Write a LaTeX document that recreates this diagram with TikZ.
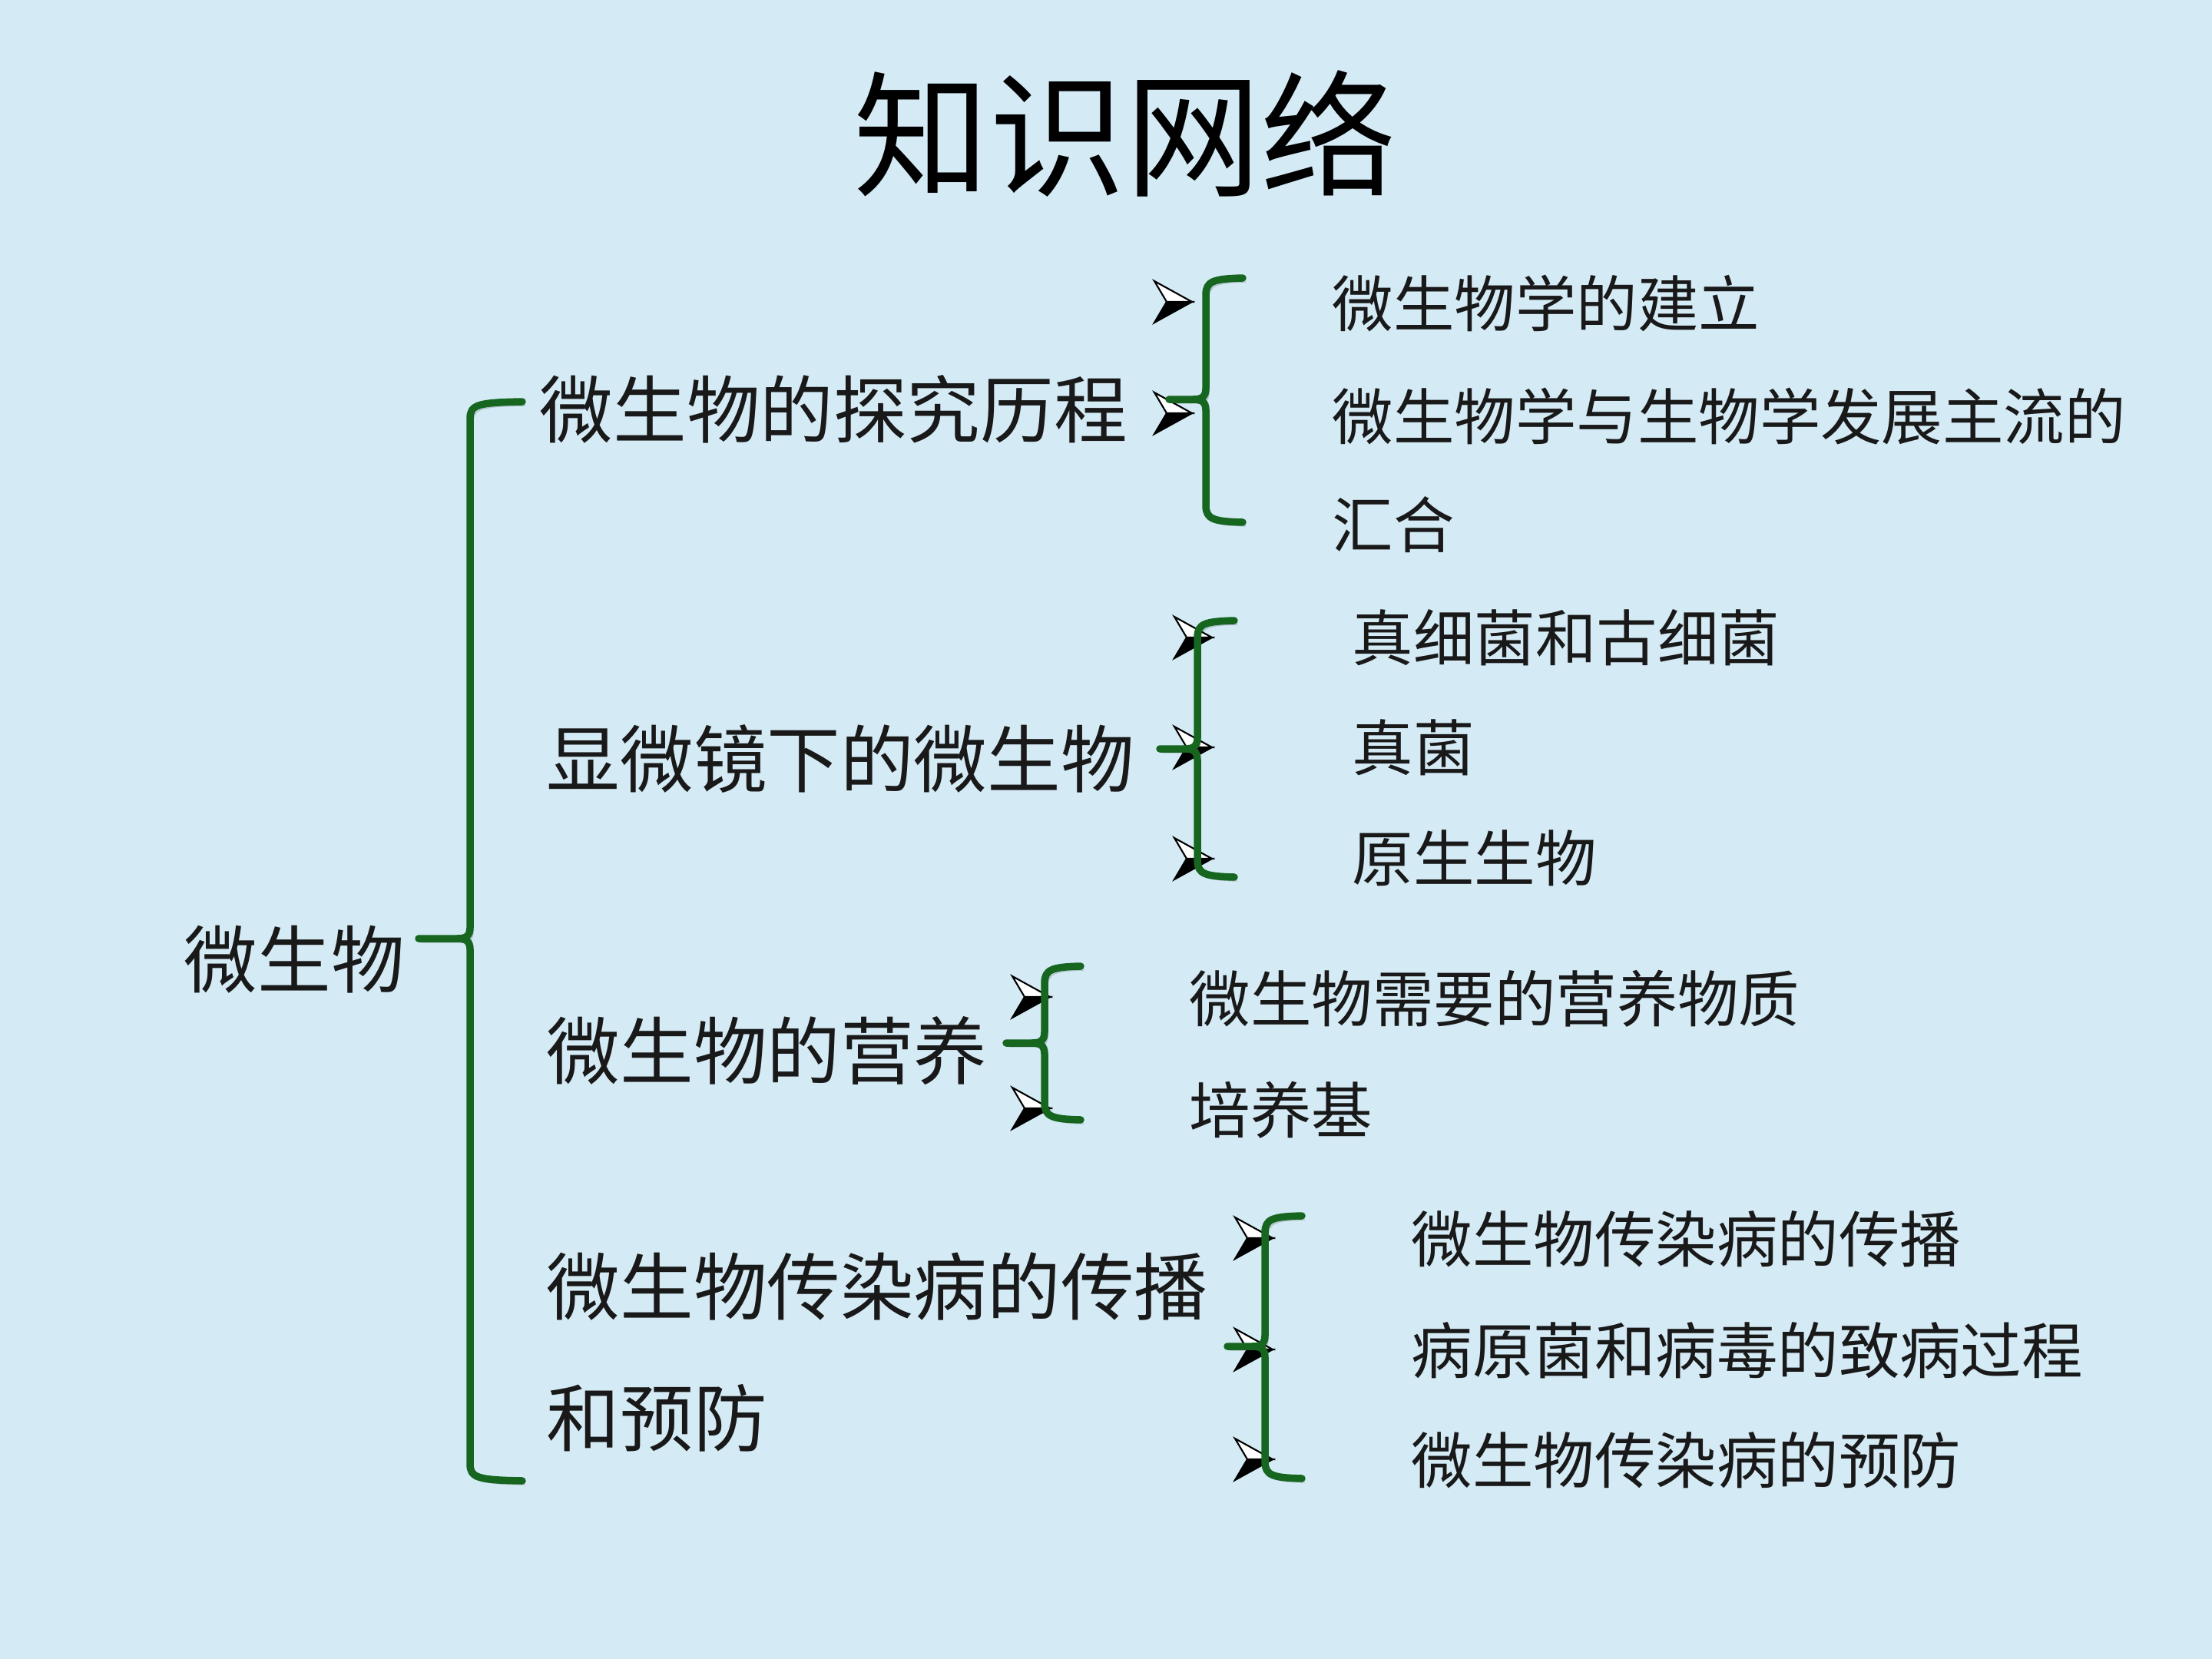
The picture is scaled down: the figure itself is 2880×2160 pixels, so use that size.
\documentclass[tikz,border=0pt]{standalone}
\usepackage{fontspec}
\newfontfamily\cjk{Noto Sans CJK SC}
\definecolor{bgblue}{RGB}{212,234,245}
\definecolor{bracegreen}{RGB}{22,102,32}
\definecolor{inkgray}{RGB}{25,25,25}
\tikzset{
  bigtext/.style={font=\cjk\fontsize{27.2}{32}\selectfont, text=inkgray, anchor=west, inner sep=0pt},
  smalltext/.style={font=\cjk\fontsize{22.6}{27}\selectfont, text=inkgray, anchor=west, inner sep=0pt},
  bracket/.style={draw=bracegreen, line width=0.095cm, line cap=round, line join=round,
    preaction={draw=black, opacity=0.18, transform canvas={shift={(0.04cm,-0.05cm)}}}},
}
% bullet arrow, tip at #1
\newcommand{\arrowbullet}[1]{%
  \begin{scope}[shift={#1}]
    \filldraw[fill=black, draw=black, line width=0.6pt] (0,0) -- (-33,0) -- (-49,27) -- cycle;
    \filldraw[fill=white, draw=black, line width=0.6pt] (0,0) -- (-33,0) -- (-49,-27) -- cycle;
  \end{scope}}
% brace: x, top, mid, bottom, tip x, arm end x
\newcommand{\greenbrace}[6]{%
  \draw[bracket] (#6,#2) .. controls (#1+10,#2+1) and (#1,#2+4) .. (#1,#2+22)
    -- (#1,#3-14) .. controls (#1,#3-3) and (#1-6,#3) .. (#1-16,#3) -- (#5,#3);
  \draw[bracket] (#1-16,#3) .. controls (#1-6,#3) and (#1,#3+3) .. (#1,#3+14)
    -- (#1,#4-22) .. controls (#1,#4-4) and (#1+10,#4-1) .. (#6,#4);}
\begin{document}
\begin{tikzpicture}[x=0.01cm, y=-0.01cm]
  \fill[bgblue] (0,0) rectangle (2880,2160);
  \useasboundingbox (0,0) rectangle (2880,2160);

  \node[font=\cjk\fontsize{50.3}{60}\selectfont, text=black, inner sep=0pt] (title) at (1465,174) {知识网络};

  % first and second level
  \node[bigtext] (root) at (239,1249) {微生物};
  \node[bigtext] (hist) at (702,533) {微生物的探究历程};
  \node[bigtext] (scope) at (711,988) {显微镜下的微生物};
  \node[bigtext] (nutri) at (711,1368) {微生物的营养};
  \node[bigtext] (infect) at (711,1675) {微生物传染病的传播};
  \node[bigtext] (infectb) at (711,1846) {和预防};

  % third level
  \node[smalltext] (h1) at (1734,395) {微生物学的建立};
  \node[smalltext] (h2) at (1734,542) {微生物学与生物学发展主流的};
  \node[smalltext] (h2b) at (1734,683) {汇合};
  \node[smalltext] (s1) at (1760,830) {真细菌和古细菌};
  \node[smalltext] (s2) at (1760,973) {真菌};
  \node[smalltext] (s3) at (1760,1117) {原生生物};
  \node[smalltext] (n1) at (1548,1300) {微生物需要的营养物质};
  \node[smalltext] (n2) at (1548,1445) {培养基};
  \node[smalltext] (i1) at (1837,1613) {微生物传染病的传播};
  \node[smalltext] (i2) at (1837,1758) {病原菌和病毒的致病过程};
  \node[smalltext] (i3) at (1837,1901) {微生物传染病的预防};

  % bullets
  \arrowbullet{(1552,393)} \arrowbullet{(1552,538)}
  \arrowbullet{(1578,830)} \arrowbullet{(1578,973)} \arrowbullet{(1578,1118)}
  \arrowbullet{(1367,1298)} \arrowbullet{(1367,1443)}
  \arrowbullet{(1657,1612)} \arrowbullet{(1657,1757)} \arrowbullet{(1657,1900)}

  % braces
  \greenbrace{612}{523}{1222}{1928}{545}{680}
  \greenbrace{1570}{362}{520}{680}{1522}{1618}
  \greenbrace{1559}{808}{975}{1142}{1510}{1607}
  \greenbrace{1360}{1258}{1358}{1458}{1310}{1407}
  \greenbrace{1647}{1583}{1753}{1925}{1598}{1695}
\end{tikzpicture}
\end{document}
